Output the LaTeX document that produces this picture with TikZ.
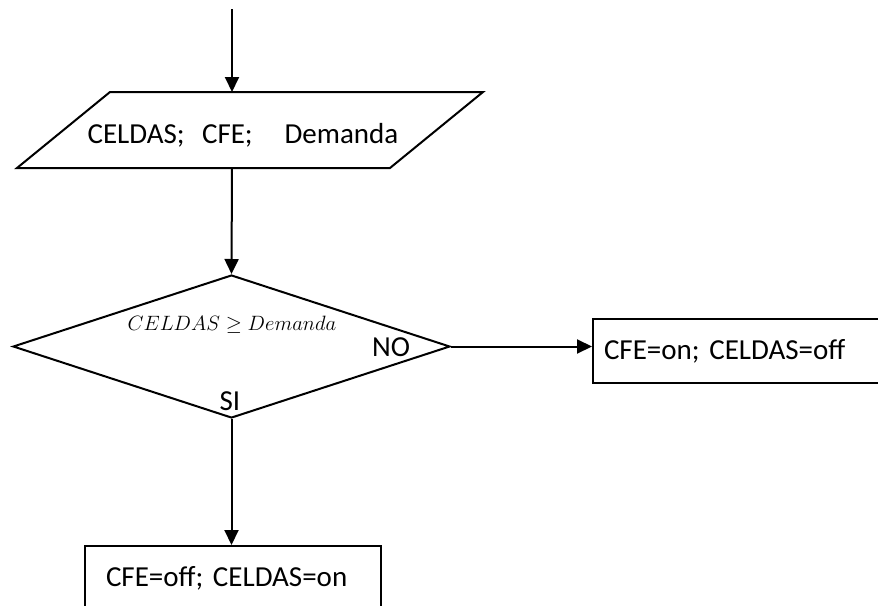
\documentclass[tikz,border=0pt]{standalone}
\usepackage{fontspec}
\setmainfont{Carlito}
\usetikzlibrary{arrows.meta,shapes.geometric}
\begin{document}
\begin{tikzpicture}[x=1pt,y=-1pt,
  line width=2pt,
  every node/.style={font=\fontsize{29}{35}\selectfont},
  conn/.style={-{Triangle[length=15pt,width=14pt]}},
  procbox/.style={draw, rectangle, minimum height=64pt, align=left, anchor=north west, inner ysep=0pt},
  decision/.style={draw, diamond, minimum width=437pt, minimum height=143pt, inner sep=0pt},
  lbl/.style={inner sep=0pt}]
\clip (0,0) rectangle (878,605);
\coordinate (start) at (232,9);
\coordinate (pin) at (232,92);
\coordinate (pout) at (232,168);
\draw (17,168) -- (110,92) -- (483,92) -- (390,168) -- cycle;
\node[lbl] (input) at (243,135) {CELDAS;\hspace{0.6em}CFE;\hspace{1.1em}Demanda};
\node[decision] (dec) at (231.5,346.5) {};
\node[lbl, font=\fontsize{21.5}{26}\selectfont] (cond) at (232,325) {$CELDAS \geq Demanda$};
\node[lbl] (nolbl) at (391,347) {NO};
\node[lbl] (silbl) at (230,401) {SI};
\node[procbox, text width=270pt, inner xsep=11pt] (boxno) at (592,318) {CFE=on; CELDAS=off};
\node[procbox, text width=254pt, inner xsep=21pt] (boxsi) at (84,545) {CFE=off; CELDAS=on};
\draw[conn] (start) -- (pin);
\draw[conn] (pout) -- (dec.north);
\draw[conn] (dec.east) -- (dec.east -| boxno.west);
\draw[conn] (dec.south) -- (dec.south |- boxsi.north);
\end{tikzpicture}
\end{document}
